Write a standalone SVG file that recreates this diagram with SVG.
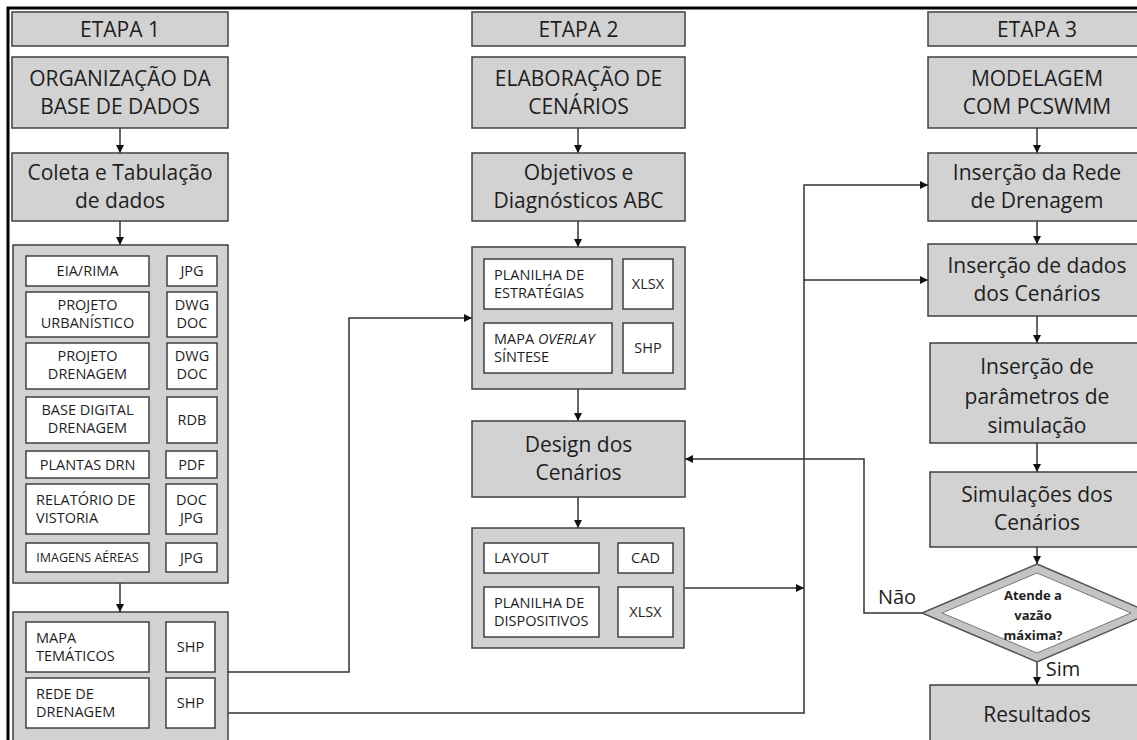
<svg xmlns="http://www.w3.org/2000/svg" width="1137" height="740" viewBox="0 0 1137 740">
<style>
.g{fill:#d2d2d2;stroke:#404040;stroke-width:1.5}
.w{fill:#fff;stroke:#404040;stroke-width:1.5}
.L{font-family:"Open Sans","Liberation Sans",sans-serif;font-size:21px;fill:#1e1e1e;text-anchor:middle}
.s{font-family:"Open Sans","Liberation Sans",sans-serif;font-size:14.5px;fill:#1e1e1e;text-anchor:middle}
.sl{font-family:"Open Sans","Liberation Sans",sans-serif;font-size:14.5px;fill:#1e1e1e}
.c{fill:none;stroke:#333;stroke-width:1.5}
.b{font-family:"Open Sans","Liberation Sans",sans-serif;font-size:13px;font-weight:bold;fill:#1e1e1e;text-anchor:middle}
</style>
<defs>
<marker id="a" markerUnits="userSpaceOnUse" markerWidth="10" markerHeight="10" refX="8" refY="4" orient="auto">
<path d="M0,0 L8,4 L0,8 Z" fill="#111"/>
</marker>
</defs>
<rect width="1137" height="740" fill="#fff"/>
<path d="M8,740 V8 H1137" fill="none" stroke="#000" stroke-width="3"/>

<g id="connectors">
<line class="c" x1="120" y1="128" x2="120" y2="153" marker-end="url(#a)"/>
<line class="c" x1="120" y1="221" x2="120" y2="245" marker-end="url(#a)"/>
<line class="c" x1="120" y1="583" x2="120" y2="612" marker-end="url(#a)"/>
<line class="c" x1="578" y1="128" x2="578" y2="153" marker-end="url(#a)"/>
<line class="c" x1="578" y1="221" x2="578" y2="247" marker-end="url(#a)"/>
<line class="c" x1="578" y1="389" x2="578" y2="421" marker-end="url(#a)"/>
<line class="c" x1="578" y1="497" x2="578" y2="528" marker-end="url(#a)"/>
<line class="c" x1="1037" y1="128" x2="1037" y2="153" marker-end="url(#a)"/>
<line class="c" x1="1037" y1="221" x2="1037" y2="244" marker-end="url(#a)"/>
<line class="c" x1="1037" y1="316" x2="1037" y2="343" marker-end="url(#a)"/>
<line class="c" x1="1037" y1="443" x2="1037" y2="472" marker-end="url(#a)"/>
<line class="c" x1="1037" y1="547" x2="1037" y2="564" marker-end="url(#a)"/>
<line class="c" x1="1037" y1="662" x2="1037" y2="685" marker-end="url(#a)"/>
<polyline class="c" points="228,672 349,672 349,318 472,318" marker-end="url(#a)"/>
<polyline class="c" points="228,713 804,713 804,185 928,185" marker-end="url(#a)"/>
<line class="c" x1="804" y1="280" x2="928" y2="280" marker-end="url(#a)"/>
<line class="c" x1="685" y1="588" x2="804" y2="588" marker-end="url(#a)"/>
<polyline class="c" points="922,613 864,613 864,459 685,459" marker-end="url(#a)"/>
</g>

<!-- Column 1 -->
<g id="etapa1"><rect class="g" x="12" y="12" width="216" height="34"/><text class="L" x="120" y="36.5">ETAPA 1</text></g>
<g id="organizacao"><rect class="g" x="12" y="57" width="216" height="71"/><text class="L" x="120" y="86">ORGANIZAÇÃO DA</text><text class="L" x="120" y="114">BASE DE DADOS</text></g>
<g id="coleta"><rect class="g" x="12" y="153" width="216" height="68"/><text class="L" x="120" y="180">Coleta e Tabulação</text><text class="L" x="120" y="208">de dados</text></g>
<g id="dados1">
<rect class="g" x="13" y="245" width="215" height="338"/>
<rect class="w" x="26" y="256" width="123" height="30"/><text class="s" x="87.5" y="276">EIA/RIMA</text>
<rect class="w" x="167" y="256" width="50" height="30"/><text class="s" x="192" y="276">JPG</text>
<rect class="w" x="26" y="292" width="123" height="45"/><text class="s" x="87.5" y="310">PROJETO</text><text class="s" x="87.5" y="328">URBANÍSTICO</text>
<rect class="w" x="167" y="292" width="50" height="45"/><text class="s" x="192" y="310">DWG</text><text class="s" x="192" y="328">DOC</text>
<rect class="w" x="26" y="343" width="123" height="46"/><text class="s" x="87.5" y="361">PROJETO</text><text class="s" x="87.5" y="379">DRENAGEM</text>
<rect class="w" x="167" y="343" width="50" height="46"/><text class="s" x="192" y="361">DWG</text><text class="s" x="192" y="379">DOC</text>
<rect class="w" x="26" y="397" width="123" height="46"/><text class="s" x="87.5" y="415">BASE DIGITAL</text><text class="s" x="87.5" y="433">DRENAGEM</text>
<rect class="w" x="167" y="397" width="50" height="46"/><text class="s" x="192" y="425">RDB</text>
<rect class="w" x="26" y="451" width="123" height="27"/><text class="s" x="87.5" y="469.5">PLANTAS DRN</text>
<rect class="w" x="166" y="451" width="51" height="27"/><text class="s" x="191.5" y="469.5">PDF</text>
<rect class="w" x="26" y="484" width="123" height="50"/><text class="sl" x="36" y="505">RELATÓRIO DE</text><text class="sl" x="36" y="523">VISTORIA</text>
<rect class="w" x="166" y="484" width="51" height="50"/><text class="s" x="191.5" y="505">DOC</text><text class="s" x="191.5" y="523">JPG</text>
<rect class="w" x="26" y="543" width="123" height="29"/><text class="s" x="87.5" y="562" style="font-size:12.5px">IMAGENS AÉREAS</text>
<rect class="w" x="166" y="543" width="51" height="29"/><text class="s" x="191.5" y="562.5">JPG</text>
</g>
<g id="dados2">
<rect class="g" x="13" y="612" width="215" height="140"/>
<rect class="w" x="26" y="622" width="123" height="50"/><text class="sl" x="36" y="643">MAPA</text><text class="sl" x="36" y="661">TEMÁTICOS</text>
<rect class="w" x="166" y="622" width="49" height="50"/><text class="s" x="190.5" y="652">SHP</text>
<rect class="w" x="26" y="678" width="123" height="50"/><text class="sl" x="36" y="699">REDE DE</text><text class="sl" x="36" y="717">DRENAGEM</text>
<rect class="w" x="166" y="678" width="49" height="50"/><text class="s" x="190.5" y="708">SHP</text>
</g>

<!-- Column 2 -->
<g id="etapa2"><rect class="g" x="472" y="12" width="213" height="34"/><text class="L" x="578.5" y="36.5">ETAPA 2</text></g>
<g id="elaboracao"><rect class="g" x="472" y="57" width="213" height="71"/><text class="L" x="578.5" y="86">ELABORAÇÃO DE</text><text class="L" x="578.5" y="114">CENÁRIOS</text></g>
<g id="objetivos"><rect class="g" x="472" y="153" width="213" height="68"/><text class="L" x="578.5" y="180">Objetivos e</text><text class="L" x="578.5" y="208">Diagnósticos ABC</text></g>
<g id="estrategias">
<rect class="g" x="472" y="247" width="213" height="142"/>
<rect class="w" x="484" y="259" width="128" height="50"/><text class="sl" x="494" y="280">PLANILHA DE</text><text class="sl" x="494" y="298">ESTRATÉGIAS</text>
<rect class="w" x="623" y="259" width="50" height="50"/><text class="s" x="648" y="289">XLSX</text>
<rect class="w" x="484" y="323" width="128" height="50"/><text class="sl" x="494" y="344">MAPA <tspan font-style="italic">OVERLAY</tspan></text><text class="sl" x="494" y="362">SÍNTESE</text>
<rect class="w" x="623" y="323" width="50" height="50"/><text class="s" x="648" y="353">SHP</text>
</g>
<g id="design"><rect class="g" x="472" y="421" width="213" height="76"/><text class="L" x="578.5" y="452">Design dos</text><text class="L" x="578.5" y="480">Cenários</text></g>
<g id="dispositivos">
<rect class="g" x="472" y="528" width="212" height="120"/>
<rect class="w" x="484" y="543" width="115" height="30"/><text class="sl" x="494" y="563">LAYOUT</text>
<rect class="w" x="618" y="543" width="55" height="30"/><text class="s" x="645.5" y="563">CAD</text>
<rect class="w" x="484" y="587" width="115" height="50"/><text class="sl" x="494" y="608">PLANILHA DE</text><text class="sl" x="494" y="626">DISPOSITIVOS</text>
<rect class="w" x="618" y="587" width="55" height="50"/><text class="s" x="645.5" y="617">XLSX</text>
</g>

<!-- Column 3 -->
<g id="etapa3"><rect class="g" x="928" y="12" width="215" height="34"/><text class="L" x="1037" y="36.5">ETAPA 3</text></g>
<g id="modelagem"><rect class="g" x="928" y="57" width="215" height="71"/><text class="L" x="1037" y="86">MODELAGEM</text><text class="L" x="1037" y="114">COM PCSWMM</text></g>
<g id="insercao-rede"><rect class="g" x="928" y="153" width="215" height="68"/><text class="L" x="1037" y="180">Inserção da Rede</text><text class="L" x="1037" y="208">de Drenagem</text></g>
<g id="insercao-dados"><rect class="g" x="928" y="244" width="215" height="72"/><text class="L" x="1037" y="273">Inserção de dados</text><text class="L" x="1037" y="301">dos Cenários</text></g>
<g id="parametros"><rect class="g" x="930" y="343" width="213" height="100"/><text class="L" x="1037" y="374">Inserção de</text><text class="L" x="1037" y="404">parâmetros de</text><text class="L" x="1037" y="433">simulação</text></g>
<g id="simulacoes"><rect class="g" x="930" y="472" width="213" height="75"/><text class="L" x="1037" y="502">Simulações dos</text><text class="L" x="1037" y="530">Cenários</text></g>
<g id="decisao">
<polygon points="1037,564 1151,613 1037,662 922,613" fill="#c4c4c4" stroke="#555" stroke-width="1.5"/>
<polygon points="1037,573 1131,613 1037,653 942,613" fill="#fff" stroke="#777" stroke-width="1"/>
<text class="b" x="1033" y="599.5">Atende a</text>
<text class="b" x="1033" y="619.5">vazão</text>
<text class="b" x="1033" y="639.5">máxima?</text>
</g>
<g id="resultados"><rect class="g" x="930" y="685" width="213" height="70"/><text class="L" x="1037" y="722">Resultados</text></g>
<text class="L" x="897" y="604" style="font-size:20px">Não</text>
<text class="L" x="1063" y="676" style="font-size:20px">Sim</text>
</svg>
